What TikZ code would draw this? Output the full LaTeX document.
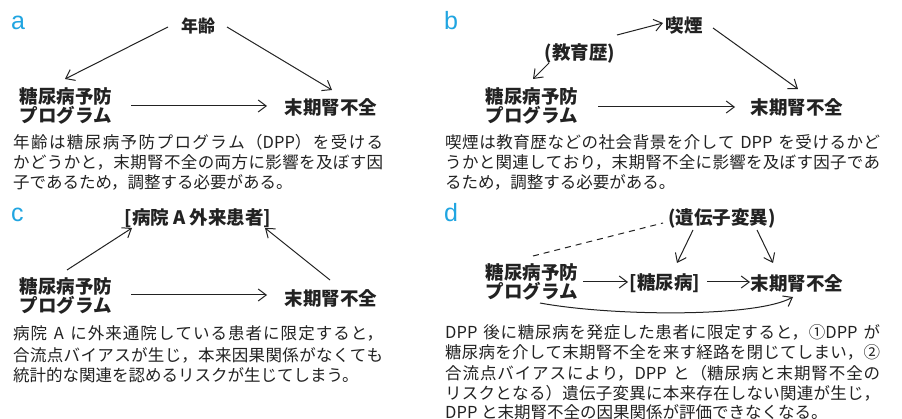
\documentclass[tikz,border=0pt]{standalone}
\usepackage{fontspec}
\setmainfont{Noto Sans CJK JP}
\newfontfamily\latf{Liberation Sans}
\usetikzlibrary{arrows.meta}
\XeTeXlinebreaklocale "ja"
\XeTeXlinebreakskip=0pt plus 4pt minus 0.4pt
\definecolor{panelcyan}{RGB}{32,165,225}
\definecolor{ink}{RGB}{34,34,34}
\newcommand\jline[2]{\parbox{#1}{\noindent\leftskip=0pt\rightskip=0pt\parfillskip=0pt\relax
  \spaceskip=5pt plus 6pt\relax\tolerance=10000\hbadness=10000\relax #2}}
\tikzset{
  lbl/.style={inner sep=0pt, font=\fontsize{18.5}{19}\selectfont\bfseries, text=ink,
    text height=16.3pt, text depth=2.2pt},
  twoline/.style={lbl, align=left, text height=35.3pt, text depth=2.2pt},
  tag/.style={inner sep=0pt, anchor=base west, font=\latf\fontsize{25}{25}\selectfont, text=panelcyan},
  captxt/.style={inner sep=0pt, anchor=west, font=\fontsize{16.5}{20}\selectfont,
    text=ink, text height=14.5pt, text depth=2pt},
  arr/.style={draw=ink, line width=1pt, -{Straight Barb[length=8pt,width=12pt]}},
  dline/.style={draw=ink, line width=1pt, dash pattern=on 6pt off 5pt},
}
\begin{document}
\begin{tikzpicture}[x=1pt, y=-1pt]
\fill[white] (0,0) rectangle (902,419);
\useasboundingbox (0,0) rectangle (902,419);

% ---------- panel a ----------
\node[tag] (taga) at (11,30) {a};
\node[lbl, font=\fontsize{17}{19}\selectfont\bfseries] (age) at (198,25) {年齢};
\node[twoline] (dppa) at (66,106) {糖尿病予防\\プログラム};
\node[lbl] (esrda) at (331,107) {末期腎不全};
\draw[arr] ([shift={(-30,2)}]age.center) -- ([shift={(-1,-27)}]dppa.center);
\draw[arr] ([shift={(29,2)}]age.center) -- ([shift={(1,-17)}]esrda.center);
\draw[arr] ([shift={(65,0)}]dppa.center) -- ([shift={(-64,-1)}]esrda.center);
\node[captxt] (ca1) at (13,140) {\jline{370pt}{年齢は糖尿病予防プログラム（DPP）を受ける}};
\node[captxt] (ca2) at (13,161) {\jline{370pt}{かどうかと，末期腎不全の両方に影響を及ぼす因}};
\node[captxt] (ca3) at (13,182) {子であるため，調整する必要がある。};

% ---------- panel b ----------
\node[tag] (tagb) at (444,30) {b};
\node[lbl] (smoke) at (684,25) {喫煙};
\node[lbl] (edu) at (580,52) {(教育歴)};
\node[twoline] (dppb) at (532,106) {糖尿病予防\\プログラム};
\node[lbl] (esrdb) at (797,107) {末期腎不全};
\draw[arr] ([shift={(37,-17)}]edu.center) -- ([shift={(-21,-2)}]smoke.center);
\draw[arr] ([shift={(-31,11)}]edu.center) -- ([shift={(1,-27)}]dppb.center);
\draw[arr] ([shift={(29,3)}]smoke.center) -- ([shift={(1,-18)}]esrdb.center);
\draw[arr] ([shift={(66,1)}]dppb.center) -- ([shift={(-62,0)}]esrdb.center);
\node[captxt] (cb1) at (445,140) {\jline{435pt}{喫煙は教育歴などの社会背景を介して DPP を受けるかど}};
\node[captxt] (cb2) at (445,161) {\jline{435pt}{うかと関連しており，末期腎不全に影響を及ぼす因子であ}};
\node[captxt] (cb3) at (445,182) {るため，調整する必要がある。};

% ---------- panel c ----------
\node[tag] (tagc) at (11,222) {c};
\node[lbl] (hosp) at (198,217) {[病院 A 外来患者]};
\node[twoline] (dppc) at (66,296) {糖尿病予防\\プログラム};
\node[lbl] (esrdc) at (331,298) {末期腎不全};
\draw[arr] ([shift={(1,-26)}]dppc.center) -- ([shift={(-66,11)}]hosp.center);
\draw[arr] ([shift={(-1,-18)}]esrdc.center) -- ([shift={(67,11)}]hosp.center);
\draw[arr] ([shift={(65,-1)}]dppc.center) -- ([shift={(-64,-3)}]esrdc.center);
\node[captxt] (cc1) at (13,332) {\jline{370pt}{病院 A に外来通院している患者に限定すると，}};
\node[captxt] (cc2) at (13,353.5) {\jline{370pt}{合流点バイアスが生じ，本来因果関係がなくても}};
\node[captxt] (cc3) at (13,375) {統計的な関連を認めるリスクが生じてしまう。};

% ---------- panel d ----------
\node[tag] (tagd) at (444,222) {d};
\node[lbl] (gene) at (722,217) {(遺伝子変異)};
\node[twoline] (dppd) at (532,282) {糖尿病予防\\プログラム};
\node[lbl] (dm) at (665,282) {[糖尿病]};
\node[lbl] (esrdd) at (797,283) {末期腎不全};
\draw[dline] ([shift={(1,-26)}]dppd.center) -- ([shift={(-59,6)}]gene.center);
\draw[arr] ([shift={(-29,13)}]gene.center) -- ([shift={(12,-19)}]dm.center);
\draw[arr] ([shift={(35,13)}]gene.center) -- ([shift={(-24,-20)}]esrdd.center);
\draw[arr] ([shift={(51,0)}]dppd.center) -- ([shift={(-37,0)}]dm.center);
\draw[arr] ([shift={(42,0)}]dm.center) -- ([shift={(-47,-1)}]esrdd.center);
\draw[arr] ([shift={(8,21)}]dppd.center) .. controls +(70,13) and +(-38,21) .. ([shift={(-4,14)}]esrdd.center);
\node[captxt] (cd1) at (445,330) {\jline{435pt}{DPP 後に糖尿病を発症した患者に限定すると，①DPP が}};
\node[captxt] (cd2) at (445,350.5) {\jline{435pt}{糖尿病を介して末期腎不全を来す経路を閉じてしまい，②}};
\node[captxt] (cd3) at (445,371) {\jline{435pt}{合流点バイアスにより，DPP と（糖尿病と末期腎不全の}};
\node[captxt] (cd4) at (445,391.5) {\jline{435pt}{リスクとなる）遺伝子変異に本来存在しない関連が生じ，}};
\node[captxt] (cd5) at (445,412) {DPP と末期腎不全の因果関係が評価できなくなる。};
\end{tikzpicture}
\end{document}
